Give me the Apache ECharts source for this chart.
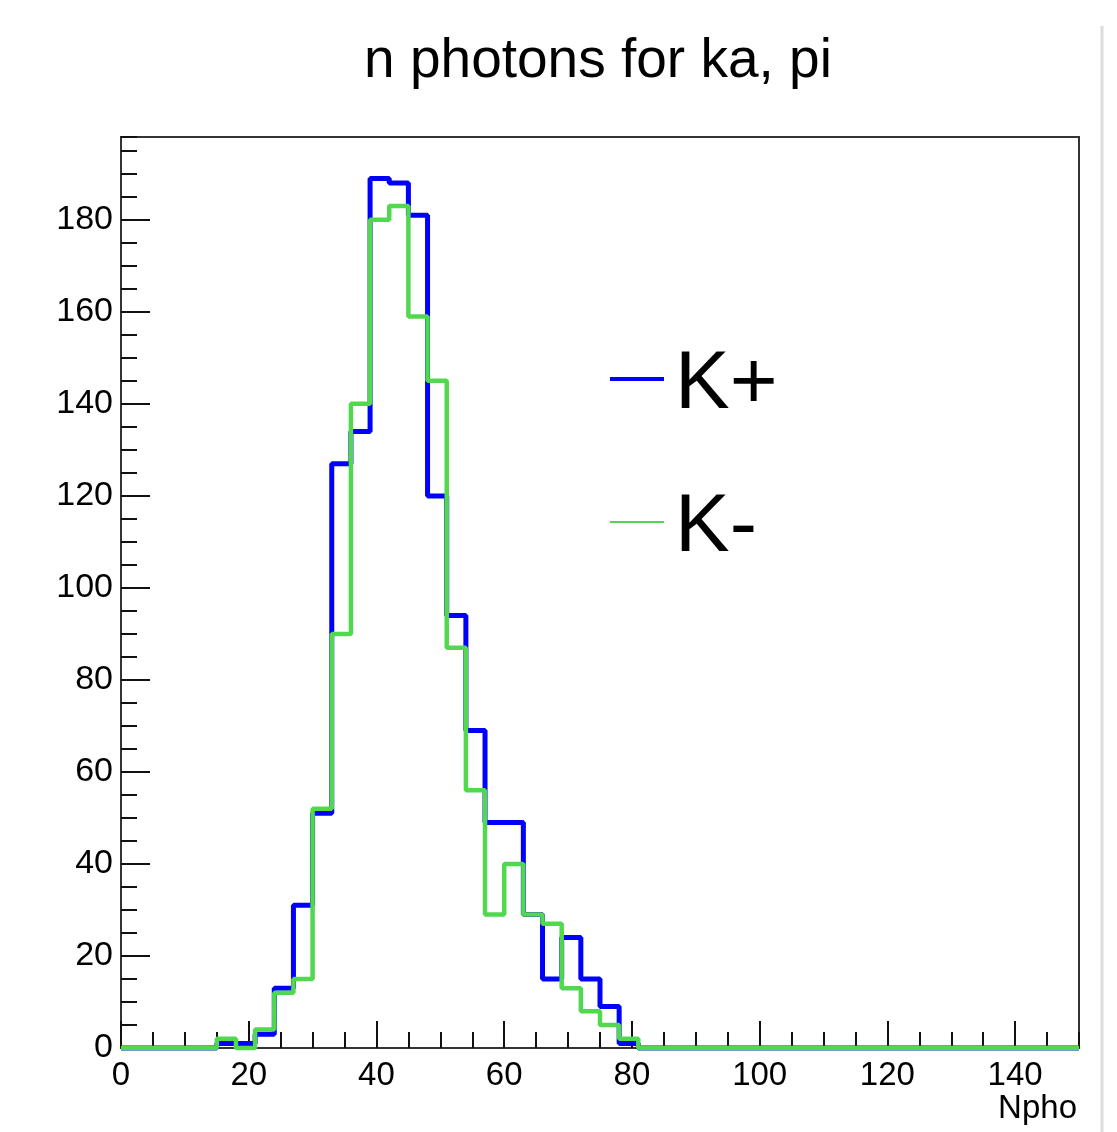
<!DOCTYPE html>
<html lang="en" style="height: 100%">
<head>
  <meta charset="utf-8">
</head>
<body style="height: 100%; margin: 0; background: #fff">
  <div id="container" style="width: 1117px; height: 1132px"></div>

  <script type="text/javascript" src="https://cdn.jsdelivr.net/npm/echarts@6/dist/echarts.min.js"></script>
  <script type="text/javascript">
    // histogram: 50 bins of width 3 from 0 to 150
    var binWidth = 3;
    var xMax = 150;
    var yMax = 198;
    var seriesNames = ['K+', 'K-'];
    var xTitle = 'Npho';
    var kPlus = [
      0, 0, 0, 0, 0, 1, 1, 3, 13, 31,
      51, 127, 134, 189, 188, 181, 120, 94, 69, 49,
      49, 29, 15, 24, 15, 9, 1, 0, 0, 0,
      0, 0, 0, 0, 0, 0, 0, 0, 0, 0,
      0, 0, 0, 0, 0, 0, 0, 0, 0, 0
    ];
    var kMinus = [
      0, 0, 0, 0, 0, 2, 0, 4, 12, 15,
      52, 90, 140, 180, 183, 159, 145, 87, 56, 29,
      40, 29, 27, 13, 8, 5, 2, 0, 0, 0,
      0, 0, 0, 0, 0, 0, 0, 0, 0, 0,
      0, 0, 0, 0, 0, 0, 0, 0, 0, 0
    ];

    function toSteps(counts) {
      var pts = counts.map(function (c, i) { return [i * binWidth, c]; });
      pts.push([counts.length * binWidth, counts[counts.length - 1]]);
      return pts;
    }

    var font = 'Liberation Sans';
    var dom = document.getElementById('container');
    var myChart = echarts.init(dom, null, { renderer: 'canvas' });

    var option = {
      animation: false,
      backgroundColor: '#fff',
      title: {
        text: 'n photons for ka, pi',
        left: 593,
        textAlign: 'center',
        top: 29,
        textStyle: { fontFamily: font, fontSize: 55, fontWeight: 'normal', color: '#000' }
      },
      legend: {
        orient: 'vertical',
        left: 608,
        top: 344,
        padding: 0,
        itemWidth: 54,
        itemHeight: 14,
        itemGap: 61,
        formatter: '{k|{name}}',
        textStyle: {
          fontFamily: font, fontSize: 82, color: '#000',
          rich: { k: { fontFamily: font, fontSize: 82, color: '#000', padding: [12, 0, 0, 6] } }
        },
        data: [
          { name: 'K+', itemStyle: { opacity: 0 }, lineStyle: { width: 4, color: '#0000ff', opacity: 1 } },
          { name: 'K-', itemStyle: { opacity: 0 }, lineStyle: { width: 2, color: '#52d84f', opacity: 1 } }
        ]
      },
      grid: {
        left: 121, right: 38, top: 137, bottom: 84,
        outerBoundsMode: 'none',
        containLabel: false,
        show: true, borderColor: '#333', borderWidth: 2
      },
      xAxis: [
        {
          type: 'value', min: 0, max: xMax, interval: 20,
          axisLine: { lineStyle: { color: '#333', width: 2 } },
          axisTick: { inside: true, length: 27, lineStyle: { color: '#111', width: 2 } },
          axisLabel: { showMaxLabel: false, margin: 11, fontFamily: font, fontSize: 33, color: '#000' },
          splitLine: { show: false }
        },
        {
          type: 'value', min: 0, max: xMax, interval: 5, position: 'bottom',
          axisLine: { show: false },
          axisTick: { inside: true, length: 16, lineStyle: { color: '#111', width: 2 } },
          axisLabel: { show: false },
          splitLine: { show: false }
        }
      ],
      yAxis: [
        {
          type: 'value', min: 0, max: yMax, interval: 20,
          axisLine: { show: true, lineStyle: { color: '#333', width: 2 } },
          axisTick: { show: true, inside: true, length: 29, lineStyle: { color: '#111', width: 2 } },
          axisLabel: { showMaxLabel: false, margin: 8, fontFamily: font, fontSize: 34, color: '#000' },
          splitLine: { show: false }
        },
        {
          type: 'value', min: 0, max: yMax, interval: 5, position: 'left', offset: 0,
          axisLine: { show: false },
          axisTick: { show: true, inside: true, length: 16, lineStyle: { color: '#111', width: 2 } },
          axisLabel: { show: false },
          splitLine: { show: false }
        }
      ],
      graphic: [
        {
          type: 'text', right: 40, top: 1092,
          style: { text: xTitle, fontFamily: font, fontSize: 33, fill: '#000' }
        },
        {
          type: 'line', z: 100,
          shape: { x1: 1102, y1: 26, x2: 1102, y2: 1132 },
          style: { stroke: '#dcdcdc', lineWidth: 3 }
        }
      ],
      series: [
        {
          name: seriesNames[0], type: 'line', step: 'end', symbol: 'none', clip: false,
          xAxisIndex: 0, yAxisIndex: 0,
          color: '#0000ff',
          lineStyle: { color: '#0000ff', width: 5 },
          data: toSteps(kPlus), z: 3
        },
        {
          name: seriesNames[1], type: 'line', step: 'end', symbol: 'none', clip: false,
          xAxisIndex: 0, yAxisIndex: 0,
          color: '#52d84f',
          lineStyle: { color: '#52d84f', width: 4.5 },
          data: toSteps(kMinus), z: 4
        }
      ]
    };

    myChart.setOption(option);
    window.addEventListener('resize', myChart.resize);
  </script>
</body>
</html>
